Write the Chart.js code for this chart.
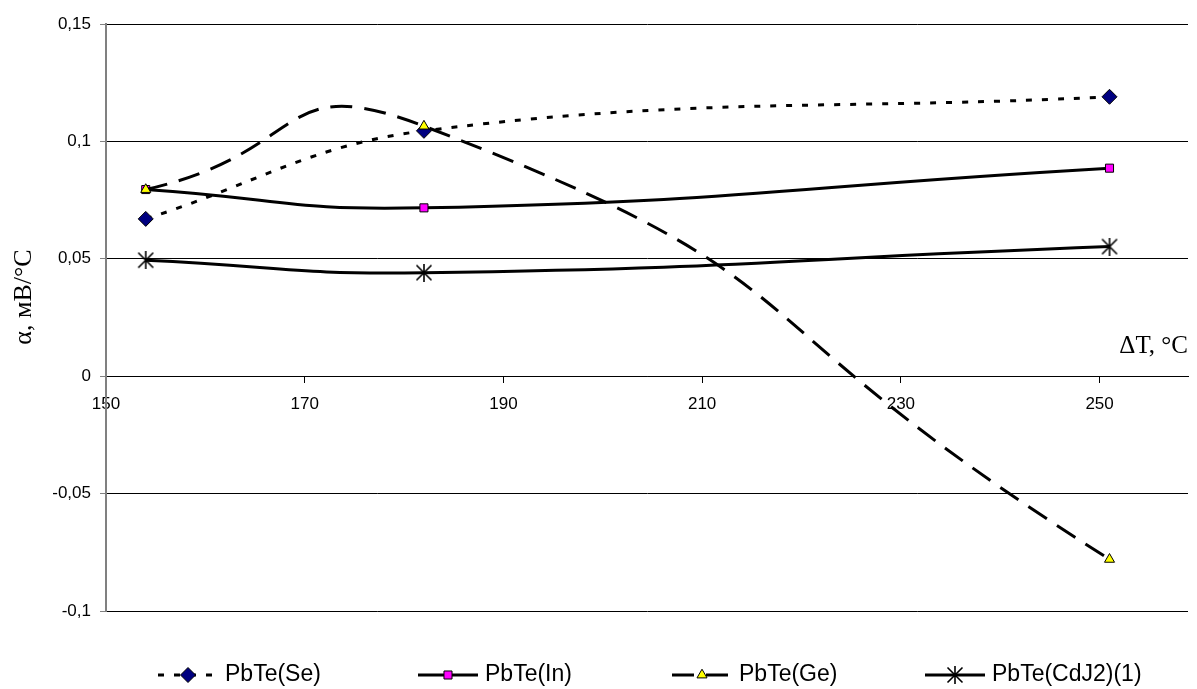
<!DOCTYPE html>
<html>
<head>
<meta charset="utf-8">
<script src="https://cdn.jsdelivr.net/npm/chart.js@4.4.0/dist/chart.umd.min.js"></script>
<style>
    html, body { margin: 0; padding: 0; background: #fff; overflow: hidden; }
    #wrap { position: relative; width: 1197px; height: 689px; }
</style>
</head>
<body>
<div id="wrap"><canvas id="chart"></canvas></div>
<script>
// temperature difference, °C
const deltaT = [154, 182, 251];
// thermo-EMF coefficient, mV/°C
const pbteSe = [0.067, 0.1045, 0.119];
const pbteIn = [0.0795, 0.0717, 0.0886];
const pbteGe = [0.0795, 0.1065, -0.078];
const pbteCdJ2 = [0.0494, 0.0441, 0.0552];

const seriesNames = ['PbTe(Se)', 'PbTe(In)', 'PbTe(Ge)', 'PbTe(CdJ2)(1)'];
const yTicks = [-0.1, -0.05, 0, 0.05, 0.1, 0.15];
const xTicks = [150, 170, 190, 210, 230, 250];
const yTitle = 'α, мВ/°C';
const xTitle = 'ΔT, °C';

function toPoints(values) {
    return deltaT.map((t, i) => ({ x: t, y: values[i] }));
}

// Excel style asterisk marker
function makeAsterisk(size) {
    const c = document.createElement('canvas');
    c.width = size;
    c.height = size;
    const g = c.getContext('2d');
    const m = size / 2;
    g.strokeStyle = '#000';
    g.lineWidth = 1.6;
    g.beginPath();
    g.moveTo(m, 0); g.lineTo(m, size);
    g.moveTo(1.5, 1.5); g.lineTo(size - 1.5, size - 1.5);
    g.moveTo(size - 1.5, 1.5); g.lineTo(1.5, size - 1.5);
    g.stroke();
    return c;
}
const asterisk = makeAsterisk(18);

const legendX = [188, 448, 702, 955];
const legendY = 675;

const extraText = {
    id: 'extraText',
    afterDraw(chart) {
        const ctx = chart.ctx;

        // y axis title
        ctx.save();
        ctx.fillStyle = '#000';
        ctx.font = '26px "Liberation Serif"';
        ctx.translate(31, 297);
        ctx.rotate(-Math.PI / 2);
        ctx.textAlign = 'center';
        ctx.textBaseline = 'alphabetic';
        ctx.fillText(yTitle, 0, 0);
        ctx.restore();

        // x axis title inside plot
        ctx.save();
        ctx.fillStyle = '#000';
        ctx.font = '25px "Liberation Serif"';
        ctx.textAlign = 'right';
        ctx.textBaseline = 'alphabetic';
        ctx.fillText(xTitle, 1188, 353);
        ctx.restore();

        // legend
        chart.data.datasets.forEach((ds, i) => {
            const cx = legendX[i];
            ctx.save();
            ctx.strokeStyle = ds.borderColor;
            ctx.lineWidth = ds.borderWidth;
            ctx.setLineDash(ds.borderDash || []);
            ctx.beginPath();
            ctx.moveTo(cx - 30, legendY);
            ctx.lineTo(cx + 30, legendY);
            ctx.stroke();
            ctx.setLineDash([]);
            ctx.fillStyle = ds.pointBackgroundColor;
            ctx.strokeStyle = ds.pointBorderColor;
            ctx.lineWidth = ds.pointBorderWidth;
            Chart.helpers.drawPoint(ctx, {
                pointStyle: ds.pointStyle,
                radius: ds.pointRadius,
                rotation: 0,
                borderWidth: ds.pointBorderWidth
            }, cx, legendY);
            ctx.restore();

            ctx.save();
            ctx.fillStyle = '#000';
            ctx.font = '23px "Liberation Sans"';
            ctx.textAlign = 'left';
            ctx.textBaseline = 'middle';
            ctx.fillText(seriesNames[i], cx + 37, legendY);
            ctx.restore();
        });
    }
};

const ctx = document.getElementById('chart').getContext('2d');

new Chart(ctx, {
    type: 'line',
    data: {
        datasets: [
            {
                label: seriesNames[0],
                data: toPoints(pbteSe),
                borderColor: '#000',
                borderWidth: 3,
                borderDash: [6, 10],
                tension: 0.4,
                pointStyle: 'rectRot',
                pointRadius: 7.5,
                pointBackgroundColor: '#000080',
                pointBorderColor: '#000',
                pointBorderWidth: 1,
                order: 2
            },
            {
                label: seriesNames[1],
                data: toPoints(pbteIn),
                borderColor: '#000',
                borderWidth: 3,
                tension: 0.5,
                pointStyle: 'rect',
                pointRadius: 5.7,
                pointBackgroundColor: '#ff00ff',
                pointBorderColor: '#000',
                pointBorderWidth: 1,
                order: 3
            },
            {
                label: seriesNames[2],
                data: toPoints(pbteGe),
                borderColor: '#000',
                borderWidth: 3,
                borderDash: [22, 12],
                tension: 0.6,
                pointStyle: 'triangle',
                pointRadius: 5.8,
                pointBackgroundColor: '#ffff00',
                pointBorderColor: '#000',
                pointBorderWidth: 1,
                order: 0
            },
            {
                label: seriesNames[3],
                data: toPoints(pbteCdJ2),
                borderColor: '#000',
                borderWidth: 3,
                tension: 0.5,
                pointStyle: asterisk,
                pointRadius: 8,
                pointBackgroundColor: '#000',
                pointBorderColor: '#000',
                pointBorderWidth: 1,
                order: 1
            }
        ]
    },
    options: {
        responsive: true,
        maintainAspectRatio: false,
        animation: false,
        devicePixelRatio: 1,
        layout: { padding: { top: 24, bottom: 78, left: 0, right: 0 } },
        plugins: {
            legend: { display: false },
            tooltip: { enabled: false }
        },
        scales: {
            x: {
                type: 'linear',
                position: { y: 0 },
                min: 150,
                max: 258.9,
                afterBuildTicks: (scale) => { scale.ticks = xTicks.map(v => ({ value: v })); },
                ticks: {
                    color: '#000',
                    font: { family: '"Liberation Sans"', size: 17 },
                    padding: 12,
                    maxRotation: 0
                },
                grid: { display: true, drawOnChartArea: false, drawTicks: true, tickLength: 6, tickColor: '#000' },
                border: { display: true, color: '#000', width: 1 }
            },
            y: {
                min: -0.1,
                max: 0.15,
                afterBuildTicks: (scale) => { scale.ticks = yTicks.map(v => ({ value: v })); },
                afterFit: (scale) => { scale.width = 106; },
                ticks: {
                    color: '#000',
                    font: { family: '"Liberation Sans"', size: 17 },
                    padding: 9,
                    callback: v => String(Math.round(v * 100) / 100).replace('.', ',')
                },
                grid: { color: '#000', lineWidth: 1, drawTicks: true, tickLength: 6, tickColor: '#808080' },
                border: { display: true, color: '#808080', width: 2 }
            }
        }
    },
    plugins: [extraText]
});
</script>
</body>
</html>
